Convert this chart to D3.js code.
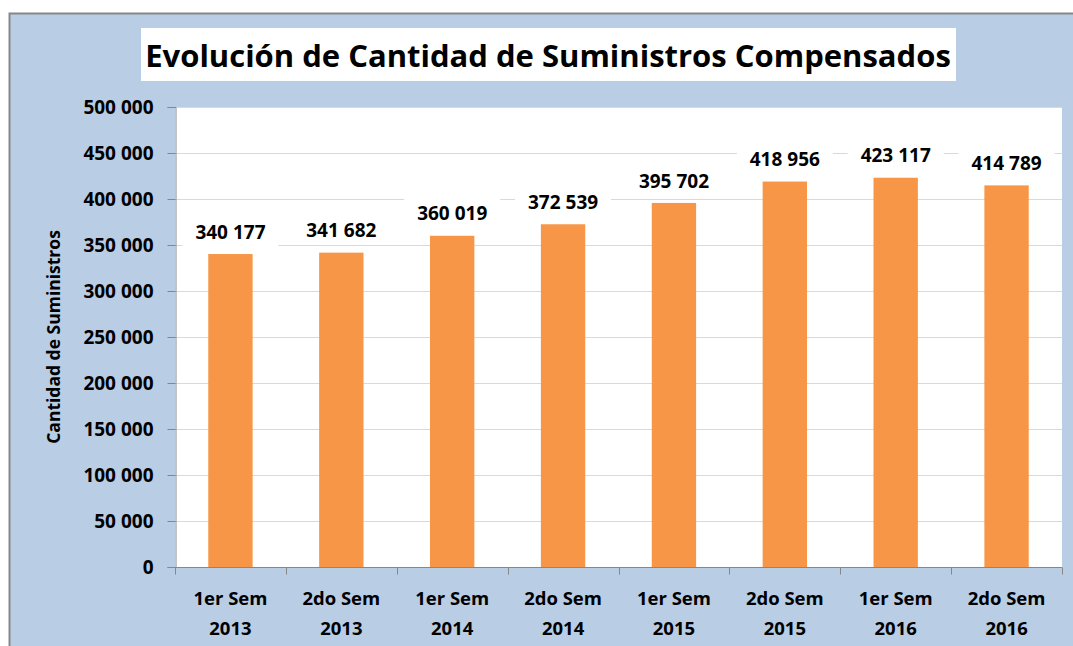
<!DOCTYPE html>
<html lang="es">
<head>
<meta charset="utf-8">
<title>Evolución de Cantidad de Suministros Compensados</title>
<script src="https://cdn.jsdelivr.net/npm/d3@7"></script>
<style>
  body { margin: 0; background: #fff; }
  text { font-family: "Open Sans", "DejaVu Sans", sans-serif; font-weight: bold; fill: #000; }
</style>
</head>
<body>
<script>
var w = 1073;
var h = 646;

var semesters = ["1er Sem", "2do Sem", "1er Sem", "2do Sem", "1er Sem", "2do Sem", "1er Sem", "2do Sem"];
var years = ["2013", "2013", "2014", "2014", "2015", "2015", "2016", "2016"];
var values = [340177, 341682, 360019, 372539, 395702, 418956, 423117, 414789];
var yTicks = [0, 50000, 100000, 150000, 200000, 250000, 300000, 350000, 400000, 450000, 500000];

var plot = { left: 175, top: 107, right: 1062, bottom: 567 };

var fmt = function(v) {
  return d3.format(",")(v).replace(/,/g, " ");
};

var svg = d3.select("body").append("svg")
  .attr("width", w)
  .attr("height", h);

// outer chart area
svg.append("rect")
  .attr("x", 9.5).attr("y", 13.5)
  .attr("width", w + 10).attr("height", h + 10)
  .attr("fill", "#b9cde5")
  .attr("stroke", "#878787")
  .attr("stroke-width", 2);

// title box
svg.append("rect")
  .attr("x", 141).attr("y", 28)
  .attr("width", 815).attr("height", 53)
  .attr("fill", "#fff");

svg.append("text")
  .attr("x", 548).attr("y", 67)
  .attr("text-anchor", "middle")
  .attr("font-size", "31px")
  .text("Evolución de Cantidad de Suministros Compensados");

// plot area
svg.append("rect")
  .attr("x", plot.left).attr("y", plot.top)
  .attr("width", plot.right - plot.left).attr("height", plot.bottom - plot.top)
  .attr("fill", "#fff");

var x = d3.scaleBand()
  .domain(d3.range(values.length))
  .range([plot.left, plot.right])
  .paddingInner(0.6)
  .paddingOuter(0.3);

var xOuter = d3.scaleBand()
  .domain(d3.range(values.length))
  .range([plot.left, plot.right]);

var y = d3.scaleLinear()
  .domain([0, 500000])
  .range([plot.bottom, plot.top]);

// gridlines
svg.append("g")
  .selectAll("line")
  .data(yTicks.slice(1))
  .enter().append("line")
  .attr("x1", plot.left).attr("x2", plot.right)
  .attr("y1", function(d) { return Math.round(y(d)) + 0.5; })
  .attr("y2", function(d) { return Math.round(y(d)) + 0.5; })
  .attr("stroke", "#d9d9d9")
  .attr("stroke-width", 1);

// bars
svg.append("g")
  .selectAll("rect")
  .data(values)
  .enter().append("rect")
  .attr("x", function(d, i) { return x(i); })
  .attr("y", function(d) { return y(d); })
  .attr("width", x.bandwidth())
  .attr("height", function(d) { return plot.bottom - y(d); })
  .attr("fill", "#f79646");

// y axis
var yAxis = d3.axisLeft(y)
  .tickValues(yTicks)
  .tickFormat(fmt)
  .tickSize(8)
  .tickPadding(14);

var gy = svg.append("g")
  .attr("transform", "translate(" + (plot.left + 0.5) + ",0)")
  .call(yAxis);
gy.select(".domain").attr("stroke", "#878787");
gy.selectAll(".tick line").attr("stroke", "#878787");
gy.selectAll(".tick text")
  .attr("font-size", "19px")
  .attr("font-family", "\"Open Sans\", sans-serif")
  .attr("font-weight", "bold")
  .attr("fill", "#000");

// x axis
var gx = svg.append("g")
  .attr("transform", "translate(0," + (plot.bottom + 0.5) + ")");
gx.append("line")
  .attr("x1", plot.left).attr("x2", plot.right)
  .attr("stroke", "#878787");
gx.selectAll(".tk")
  .data(d3.range(values.length + 1))
  .enter().append("line")
  .attr("class", "tk")
  .attr("x1", function(i) { return Math.round(plot.left + i * xOuter.step()) + 0.5; })
  .attr("x2", function(i) { return Math.round(plot.left + i * xOuter.step()) + 0.5; })
  .attr("y1", 0).attr("y2", 7)
  .attr("stroke", "#878787");

var cat = gx.selectAll(".cat")
  .data(values)
  .enter().append("text")
  .attr("class", "cat")
  .attr("text-anchor", "middle")
  .attr("font-size", "18.5px");
cat.append("tspan")
  .attr("x", function(d, i) { return xOuter(i) + xOuter.bandwidth() / 2; })
  .attr("y", 37)
  .text(function(d, i) { return semesters[i]; });
cat.append("tspan")
  .attr("x", function(d, i) { return xOuter(i) + xOuter.bandwidth() / 2; })
  .attr("y", 67)
  .text(function(d, i) { return years[i]; });

// data labels with white background
var labels = svg.append("g")
  .selectAll("g")
  .data(values)
  .enter().append("g")
  .attr("transform", function(d, i) {
    return "translate(" + (x(i) + x.bandwidth() / 2) + "," + (y(d) - 22) + ")";
  });
labels.append("rect")
  .attr("x", -48).attr("y", -16)
  .attr("width", 96).attr("height", 30)
  .attr("fill", "#fff");
labels.append("text")
  .attr("text-anchor", "middle")
  .attr("dy", "0.35em")
  .attr("font-size", "19px")
  .text(function(d) { return fmt(d); });

// y axis title
svg.append("text")
  .attr("transform", "translate(60," + ((plot.top + plot.bottom) / 2) + ") rotate(-90)")
  .attr("text-anchor", "middle")
  .attr("font-size", "17.5px")
  .text("Cantidad de Suministros");
</script>
</body>
</html>
